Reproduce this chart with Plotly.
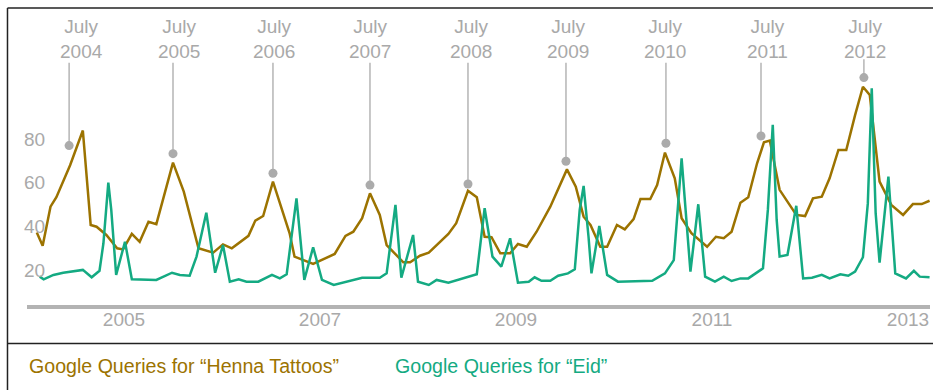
import plotly.graph_objects as go

# ---- data (decimal years, Google Trends index) ----
henna_x = [2004.11, 2004.17, 2004.25, 2004.31, 2004.45, 2004.58, 2004.66, 2004.72, 2004.82, 2004.93,
           2004.99, 2005.08, 2005.16, 2005.25, 2005.33, 2005.50, 2005.61, 2005.76, 2005.91, 2006.01,
           2006.10, 2006.27, 2006.34, 2006.42, 2006.52, 2006.61, 2006.69, 2006.74, 2006.83, 2006.93,
           2007.15, 2007.26, 2007.34, 2007.43, 2007.51, 2007.61, 2007.68, 2007.85, 2007.92, 2008.02,
           2008.11, 2008.21, 2008.31, 2008.39, 2008.51, 2008.60, 2008.68, 2008.75, 2008.84, 2008.94,
           2009.02, 2009.11, 2009.21, 2009.35, 2009.52, 2009.61, 2009.69, 2009.76, 2009.86, 2009.93,
           2010.03, 2010.11, 2010.20, 2010.27, 2010.37, 2010.44, 2010.52, 2010.62, 2010.69, 2010.79,
           2010.88, 2010.95, 2011.04, 2011.12, 2011.20, 2011.29, 2011.37, 2011.46, 2011.53, 2011.59,
           2011.69, 2011.76, 2011.86, 2011.95, 2012.03, 2012.12, 2012.20, 2012.29, 2012.37, 2012.46,
           2012.54, 2012.61, 2012.71, 2012.83, 2012.95, 2013.05, 2013.14, 2013.22]
henna_y = [37.1, 31.1, 49.0, 53.3, 68.0, 83.9, 40.6, 39.8, 36.0, 29.9,
           29.4, 36.5, 32.9, 42.1, 41.0, 69.2, 55.9, 29.9, 27.9, 31.7,
           29.9, 35.6, 42.6, 44.7, 60.5, 47.5, 36.8, 26.1, 24.5, 22.7,
           27.3, 35.6, 37.5, 43.7, 55.1, 45.2, 31.4, 23.5, 23.5, 26.5,
           27.9, 32.2, 36.5, 41.4, 56.3, 53.3, 35.2, 35.0, 27.6, 27.6,
           31.9, 30.6, 37.5, 49.0, 66.1, 58.2, 44.4, 40.6, 30.6, 30.6,
           40.6, 38.6, 43.3, 52.5, 52.5, 58.9, 73.8, 62.0, 43.7, 36.8,
           33.3, 30.6, 35.2, 34.5, 37.5, 50.8, 53.3, 68.9, 78.5, 79.3,
           56.7, 52.0, 45.2, 44.7, 52.8, 53.6, 62.0, 75.0, 75.0, 91.0,
           104.0, 100.2, 60.5, 49.8, 45.2, 50.2, 50.2, 51.7]

eid_x = [2004.14, 2004.18, 2004.28, 2004.38, 2004.58, 2004.67, 2004.75, 2004.79, 2004.84, 2004.87,
         2004.92, 2005.01, 2005.08, 2005.33, 2005.49, 2005.57, 2005.67, 2005.74, 2005.84, 2005.93,
         2006.01, 2006.08, 2006.17, 2006.25, 2006.37, 2006.51, 2006.59, 2006.66, 2006.76, 2006.84,
         2006.93, 2007.02, 2007.14, 2007.22, 2007.29, 2007.43, 2007.61, 2007.68, 2007.77, 2007.83,
         2007.95, 2008.00, 2008.11, 2008.19, 2008.31, 2008.60, 2008.68, 2008.76, 2008.85, 2008.94,
         2009.02, 2009.13, 2009.19, 2009.26, 2009.35, 2009.43, 2009.53, 2009.60, 2009.65, 2009.69,
         2009.74, 2009.77, 2009.85, 2009.93, 2010.04, 2010.39, 2010.52, 2010.61, 2010.65, 2010.69,
         2010.72, 2010.78, 2010.86, 2010.93, 2011.03, 2011.12, 2011.20, 2011.29, 2011.37, 2011.52,
         2011.57, 2011.62, 2011.66, 2011.69, 2011.77, 2011.86, 2011.93, 2012.02, 2012.12, 2012.20,
         2012.31, 2012.39, 2012.46, 2012.54, 2012.59, 2012.63, 2012.67, 2012.71, 2012.80, 2012.87,
         2012.98, 2013.06, 2013.12, 2013.22]
eid_y = [16.9, 15.7, 17.7, 18.7, 20.0, 16.6, 19.6, 32.2, 60.0, 47.5,
         17.7, 32.9, 15.7, 15.4, 18.7, 17.7, 17.3, 26.1, 46.2, 18.7,
         31.4, 14.6, 15.7, 14.6, 14.6, 17.7, 16.1, 18.0, 52.8, 15.4,
         30.4, 15.4, 13.1, 14.1, 14.8, 16.4, 16.4, 18.4, 49.8, 16.4,
         36.0, 14.6, 13.1, 15.4, 14.1, 18.0, 48.3, 26.1, 21.5, 34.5,
         14.1, 14.6, 16.6, 15.0, 15.0, 17.3, 18.4, 20.3, 47.5, 58.5,
         35.2, 18.4, 40.1, 17.7, 14.6, 15.0, 18.4, 24.5, 47.5, 71.2,
         53.6, 19.2, 50.1, 16.9, 14.6, 16.9, 14.9, 16.1, 16.1, 20.7,
         47.5, 86.5, 42.9, 26.1, 26.8, 49.4, 16.1, 16.4, 17.7, 16.1,
         18.0, 17.3, 19.2, 25.8, 50.5, 103.3, 46.0, 23.3, 62.8, 18.4,
         16.1, 19.6, 16.9, 16.6]

# July peak call-outs
callout_years = ["2004", "2005", "2006", "2007", "2008", "2009", "2010", "2011", "2012"]
callout_dot_x = [2004.44, 2005.50, 2006.52, 2007.51, 2008.51, 2009.51, 2010.53, 2011.50, 2012.55]
callout_dot_y = [77.0, 73.3, 64.3, 58.9, 59.4, 69.8, 78.1, 81.4, 108.2]
callout_text_x = [2004.57, 2005.56, 2006.53, 2007.51, 2008.54, 2009.53, 2010.52, 2011.57, 2012.56]

x_tickvals = [2005, 2007, 2009, 2011, 2013]
x_ticktext = ["2005", "2007", "2009", "2011", "2013"]
y_tickvals = [20, 40, 60, 80]

BROWN = "#9c7300"
GREEN = "#14aa82"
GRAY = "#a9a9a9"
FONT = "Liberation Sans, Arial, sans-serif"

fig = go.Figure()
fig.add_trace(go.Scatter(x=henna_x, y=henna_y, mode="lines",
                         line=dict(color=BROWN, width=2.5), name="Henna Tattoos"))
fig.add_trace(go.Scatter(x=eid_x, y=eid_y, mode="lines",
                         line=dict(color=GREEN, width=2.5), name="Eid"))

shapes = []
annotations = []
for yr, dx, dy, tx in zip(callout_years, callout_dot_x, callout_dot_y, callout_text_x):
    top = 116.6 if yr == "2012" else 115.0
    shapes.append(dict(type="line", xref="x", yref="y", x0=dx, x1=dx, y0=top, y1=dy,
                       line=dict(color="#b5b5b5", width=1.5), layer="below"))
    annotations.append(dict(x=tx, y=126.1, xref="x", yref="y", text=f"July<br>{yr}",
                            showarrow=False, font=dict(family=FONT, size=19, color=GRAY),
                            xanchor="center", yanchor="middle", align="center"))

fig.add_trace(go.Scatter(x=callout_dot_x, y=callout_dot_y, mode="markers",
                         marker=dict(color="#ababab", size=9), hoverinfo="skip"))

# frame lines
shapes += [
    dict(type="line", xref="paper", yref="paper", x0=-0.0216, x1=1.01, y0=1.0, y1=1.0,
         line=dict(color="#222222", width=1.5)),
    dict(type="line", xref="paper", yref="paper", x0=-0.0216, x1=-0.0216, y0=1.0, y1=-0.30,
         line=dict(color="#222222", width=1.5)),
    dict(type="line", xref="paper", yref="paper", x0=-0.0216, x1=1.01, y0=-0.1296, y1=-0.1296,
         line=dict(color="#222222", width=1.5)),
]

# legend texts
annotations += [
    dict(x=-0.0005, y=-0.2062, xref="paper", yref="paper", xanchor="left", yanchor="middle",
         text="Google Queries for \u201cHenna Tattoos\u201d", showarrow=False,
         font=dict(family=FONT, size=19.6, color=BROWN)),
    dict(x=0.4053, y=-0.2062, xref="paper", yref="paper", xanchor="left", yanchor="middle",
         text="Google Queries for \u201cEid\u201d", showarrow=False,
         font=dict(family=FONT, size=19.6, color=GREEN)),
]

fig.update_layout(
    width=933, height=390,
    margin=dict(l=27, r=3, t=8, b=85),
    paper_bgcolor="white", plot_bgcolor="white",
    showlegend=False,
    shapes=shapes, annotations=annotations,
    xaxis=dict(range=[2004.0102, 2013.2245], tickvals=x_tickvals, ticktext=x_ticktext,
               showgrid=False, zeroline=False, showline=True, linecolor="#b3b3b3", linewidth=4,
               ticks="", ticklabelstandoff=-6, tickfont=dict(family=FONT, size=19, color=GRAY)),
    yaxis=dict(range=[3.9, 140.1], tickvals=y_tickvals, showgrid=False, zeroline=False,
               showline=False, ticks="", ticklabelposition="inside", ticklabelstandoff=-6,
               tickfont=dict(family=FONT, size=19, color=GRAY)),
)

fig.write_html("out.html", config={"displayModeBar": False},
               post_script="document.body.style.margin='0';document.body.style.overflow='hidden';")
